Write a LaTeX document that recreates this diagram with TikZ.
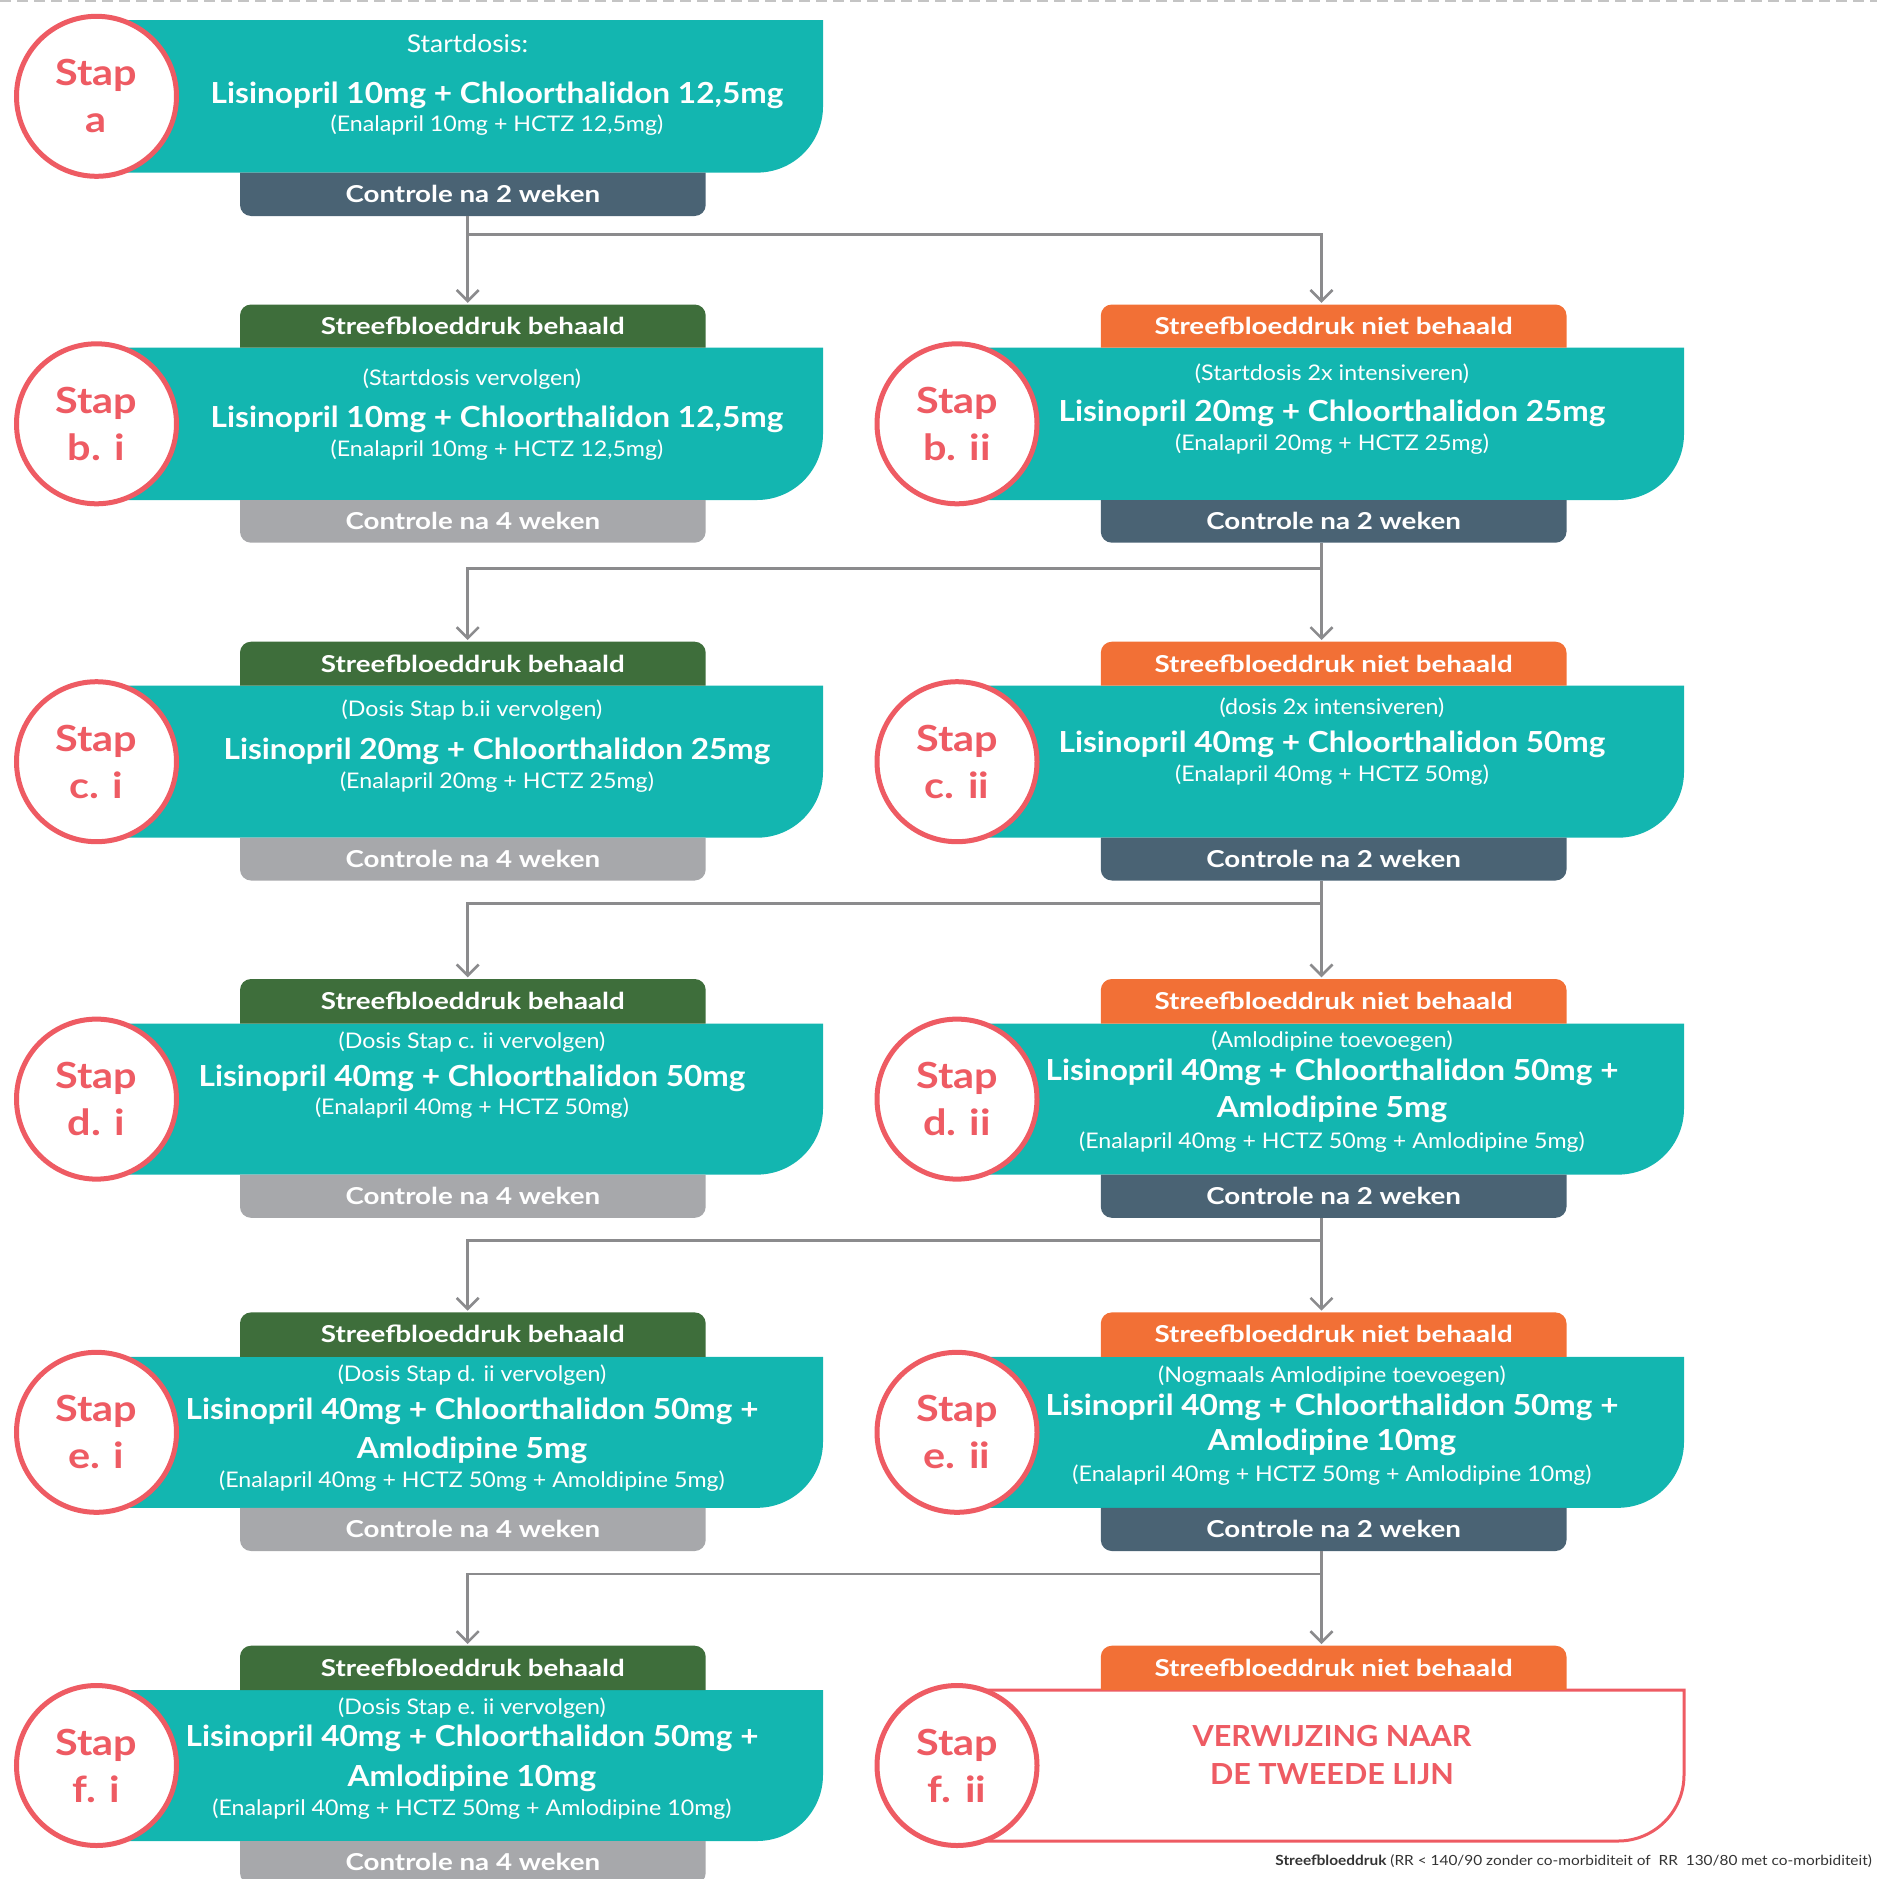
\documentclass[tikz,border=0pt]{standalone}
\usepackage{fontspec}
\setmainfont{Lato}
\newfontfamily\fmain{Lato}[FakeStretch=1.09]
\newfontfamily\fsub{Lato}[FakeStretch=1.08]
\newfontfamily\fhdr{Lato}[FakeStretch=1.19]
\newfontfamily\fstap{Lato}[FakeStretch=1.15]
\newfontfamily\fnote{Lato}[FakeStretch=1.10]
\newfontfamily\fref{Lato}[FakeStretch=1.055]
\usetikzlibrary{arrows.meta}
\definecolor{tealc}{HTML}{13B6B0}
\definecolor{greenc}{HTML}{3E6E3B}
\definecolor{orangec}{HTML}{F27036}
\definecolor{darkc}{HTML}{4A6374}
\definecolor{grayc}{HTML}{A7A8AB}
\definecolor{redc}{HTML}{EE5B63}
\definecolor{linec}{HTML}{8B8B8D}
\definecolor{dashc}{HTML}{C4C4C4}
\definecolor{notec}{HTML}{333333}
% shapes: L T R B colour
\newcommand\tealshape[5]{\fill[#5] (#1,#2) -- (#3,#2) -- (#3,#4-66) arc[start angle=0,end angle=-90,radius=66pt] -- (#1,#4) -- cycle;}
\newcommand\hdrshape[5]{\fill[#5] (#1,#4) -- (#1,#2+11) arc[start angle=180,end angle=90,radius=11pt] -- (#3-11,#2) arc[start angle=90,end angle=0,radius=11pt] -- (#3,#4) -- cycle;}
\newcommand\ctrlshape[5]{\fill[#5] (#1,#2) -- (#3,#2) -- (#3,#4-11) arc[start angle=0,end angle=-90,radius=11pt] -- (#1+11,#4) arc[start angle=-90,end angle=-180,radius=11pt] -- cycle;}
% box with label: name L T R B colour text
\newcommand\hdrbox[7]{\hdrshape{#2}{#3}{#4}{#5}{#6}\node[boxlbl,minimum width={(#4-#2)*1pt},minimum height={(#5-#3)*1pt}] (#1) at ({(#2+#4)/2},{(#3+#5)/2}) {#7};}
\newcommand\ctrlbox[7]{\ctrlshape{#2}{#3}{#4}{#5}{#6}\node[boxlbl,minimum width={(#4-#2)*1pt},minimum height={(#5-#3)*1pt}] (#1) at ({(#2+#4)/2},{(#3+#5)/2}) {#7};}
\tikzset{
  conn/.style={draw=linec, line width=2.6pt},
  arr/.style={conn, -{Straight Barb[length=11pt,width=22pt]}, shorten >=1.5pt},
  stapc/.style={circle, draw=redc, line width=5pt, fill=white, minimum size=160pt, inner sep=0pt, text=redc, font=\fstap\bfseries\fontsize{36}{47}\selectfont, align=center},
  boxlbl/.style={inner sep=0pt, text=white, font=\fhdr\bfseries\fontsize{23.3}{27}\selectfont, text height=16.7pt, text depth=0pt},
  mainl/.style={anchor=base, inner sep=0pt, text=white, font=\fmain\bfseries\fontsize{29}{34}\selectfont},
  subl/.style={anchor=base, inner sep=0pt, text=white, font=\fsub\fontsize{21.5}{26}\selectfont},
  startl/.style={anchor=base, inner sep=0pt, text=white, font=\fsub\fontsize{24.5}{28}\selectfont},
  refl/.style={anchor=base, inner sep=0pt, text=redc, font=\fref\bfseries\fontsize{29}{34}\selectfont},
  notel/.style={anchor=base east, inner sep=0pt, text=notec, font=\fnote\fontsize{14}{16}\selectfont},
}
\begin{document}
\begin{tikzpicture}[x=1pt,y=-1pt]
\useasboundingbox (0,0) rectangle (1877,1879);
\clip (0,0) rectangle (1877,1879);
\draw[draw=dashc, line width=1.6pt, dash pattern=on 11pt off 6pt] (0,1.2) -- (1877,1.2);

% ---------- Row a ----------
\tealshape{105}{20}{823}{172.6}{tealc}
\ctrlbox{ca}{240}{172.6}{705.7}{216}{darkc}{Controle na 2 weken}
\node[stapc] (sa) at (96.5,96.3) {Stap\\a};
\node[startl] (ta1) at (467.5,52.5) {Startdosis:};
\node[mainl] (ta2) at (497,103) {Lisinopril 10mg + Chloorthalidon 12,5mg};
\node[subl]  (ta3) at (497,131) {(Enalapril 10mg + HCTZ 12,5mg)};

% ---------- Row b ----------
\tealshape{105}{347.5}{823}{500}{tealc}
\hdrbox{hbi}{240}{304.5}{705.7}{347.5}{greenc}{Streefbloeddruk behaald}
\ctrlbox{cbi}{240}{500}{705.7}{542.7}{grayc}{Controle na 4 weken}
\node[stapc] (sbi) at (96.5,423.8) {Stap\\b. i};
\node[subl]  (tbi1) at (472,385)   {(Startdosis vervolgen)};
\node[mainl] (tbi2) at (497,427.3) {Lisinopril 10mg + Chloorthalidon 12,5mg};
\node[subl]  (tbi3) at (497,456)   {(Enalapril 10mg + HCTZ 12,5mg)};

\tealshape{966}{347.5}{1684}{500}{tealc}
\hdrbox{hbii}{1100.8}{304.5}{1566.5}{347.5}{orangec}{Streefbloeddruk niet behaald}
\ctrlbox{cbii}{1100.8}{500}{1566.5}{542.7}{darkc}{Controle na 2 weken}
\node[stapc] (sbii) at (957,423.8) {Stap\\b. ii};
\node[subl]  (tbii1) at (1332,380.5) {(Startdosis 2x intensiveren)};
\node[mainl] (tbii2) at (1332,421.5) {Lisinopril 20mg + Chloorthalidon 25mg};
\node[subl]  (tbii3) at (1332,450.5) {(Enalapril 20mg + HCTZ 25mg)};

% ---------- Row c ----------
\tealshape{105}{685.7}{823}{837.7}{tealc}
\hdrbox{hci}{240}{641.7}{705.7}{685.7}{greenc}{Streefbloeddruk behaald}
\ctrlbox{cci}{240}{837.7}{705.7}{880.5}{grayc}{Controle na 4 weken}
\node[stapc] (sci) at (96.5,761.7) {Stap\\c. i};
\node[subl]  (tci1) at (472,716)   {(Dosis Stap b.ii vervolgen)};
\node[mainl] (tci2) at (497,759.5) {Lisinopril 20mg + Chloorthalidon 25mg};
\node[subl]  (tci3) at (497,788.5) {(Enalapril 20mg + HCTZ 25mg)};

\tealshape{966}{685.7}{1684}{837.7}{tealc}
\hdrbox{hcii}{1100.8}{641.7}{1566.5}{685.7}{orangec}{Streefbloeddruk niet behaald}
\ctrlbox{ccii}{1100.8}{837.7}{1566.5}{880.5}{darkc}{Controle na 2 weken}
\node[stapc] (scii) at (957,761.7) {Stap\\c. ii};
\node[subl]  (tcii1) at (1332,714)   {(dosis 2x intensiveren)};
\node[mainl] (tcii2) at (1332,752.5) {Lisinopril 40mg + Chloorthalidon 50mg};
\node[subl]  (tcii3) at (1332,781.5) {(Enalapril 40mg + HCTZ 50mg)};

% ---------- Row d ----------
\tealshape{105}{1023.6}{823}{1174.6}{tealc}
\hdrbox{hdi}{240}{979}{705.7}{1023.6}{greenc}{Streefbloeddruk behaald}
\ctrlbox{cdi}{240}{1174.6}{705.7}{1217.8}{grayc}{Controle na 4 weken}
\node[stapc] (sdi) at (96.5,1099.1) {Stap\\d. i};
\node[subl]  (tdi1) at (472,1048)   {(Dosis Stap c. ii vervolgen)};
\node[mainl] (tdi2) at (472,1086.5) {Lisinopril 40mg + Chloorthalidon 50mg};
\node[subl]  (tdi3) at (472,1114.5) {(Enalapril 40mg + HCTZ 50mg)};

\tealshape{966}{1023.6}{1684}{1174.6}{tealc}
\hdrbox{hdii}{1100.8}{979}{1566.5}{1023.6}{orangec}{Streefbloeddruk niet behaald}
\ctrlbox{cdii}{1100.8}{1174.6}{1566.5}{1217.8}{darkc}{Controle na 2 weken}
\node[stapc] (sdii) at (957,1099.1) {Stap\\d. ii};
\node[subl]  (tdii1) at (1332,1047.3) {(Amlodipine toevoegen)};
\node[mainl] (tdii2) at (1332,1080.7) {Lisinopril 40mg + Chloorthalidon 50mg +};
\node[mainl] (tdii3) at (1332,1117.3) {Amlodipine 5mg};
\node[subl]  (tdii4) at (1332,1148.3) {(Enalapril 40mg + HCTZ 50mg + Amlodipine 5mg)};

% ---------- Row e ----------
\tealshape{105}{1356.8}{823}{1507.8}{tealc}
\hdrbox{hei}{240}{1312.4}{705.7}{1356.8}{greenc}{Streefbloeddruk behaald}
\ctrlbox{cei}{240}{1507.8}{705.7}{1551}{grayc}{Controle na 4 weken}
\node[stapc] (sei) at (96.5,1432.3) {Stap\\e. i};
\node[subl]  (tei1) at (472,1381.4) {(Dosis Stap d. ii vervolgen)};
\node[mainl] (tei2) at (472,1419.3) {Lisinopril 40mg + Chloorthalidon 50mg +};
\node[mainl] (tei3) at (472,1458.6) {Amlodipine 5mg};
\node[subl]  (tei4) at (472,1487.5) {(Enalapril 40mg + HCTZ 50mg + Amoldipine 5mg)};

\tealshape{966}{1356.8}{1684}{1507.8}{tealc}
\hdrbox{heii}{1100.8}{1312.4}{1566.5}{1356.8}{orangec}{Streefbloeddruk niet behaald}
\ctrlbox{ceii}{1100.8}{1507.8}{1566.5}{1551}{darkc}{Controle na 2 weken}
\node[stapc] (seii) at (957,1432.3) {Stap\\e. ii};
\node[subl]  (teii1) at (1332,1382.5) {(Nogmaals Amlodipine toevoegen)};
\node[mainl] (teii2) at (1332,1415.4) {Lisinopril 40mg + Chloorthalidon 50mg +};
\node[mainl] (teii3) at (1332,1450.5) {Amlodipine 10mg};
\node[subl]  (teii4) at (1332,1481.5) {(Enalapril 40mg + HCTZ 50mg + Amlodipine 10mg)};

% ---------- Row f ----------
\tealshape{105}{1690}{823}{1841}{tealc}
\hdrbox{hfi}{240}{1645.7}{705.7}{1690}{greenc}{Streefbloeddruk behaald}
\ctrlbox{cfi}{240}{1841}{705.7}{1884}{grayc}{Controle na 4 weken}
\node[stapc] (sfi) at (96.5,1765.5) {Stap\\f. i};
\node[subl]  (tfi1) at (472,1714.6) {(Dosis Stap e. ii vervolgen)};
\node[mainl] (tfi2) at (472,1746.8) {Lisinopril 40mg + Chloorthalidon 50mg +};
\node[mainl] (tfi3) at (472,1786)   {Amlodipine 10mg};
\node[subl]  (tfi4) at (472,1815)   {(Enalapril 40mg + HCTZ 50mg + Amlodipine 10mg)};

\draw[draw=redc, line width=3pt, fill=white] (950,1690) -- (1684,1690) -- (1684,1841-66) arc[start angle=0,end angle=-90,radius=66pt] -- (950,1841) -- cycle;
\hdrbox{hfii}{1100.8}{1645.7}{1566.5}{1690}{orangec}{Streefbloeddruk niet behaald}
\node[stapc] (sfii) at (957,1765.5) {Stap\\f. ii};
\node[refl] (tfii1) at (1332,1746.7) {VERWIJZING NAAR};
\node[refl] (tfii2) at (1332,1784.3) {DE TWEEDE LIJN};

\node[notel] (note) at (1872,1865) {\textbf{Streefbloeddruk} (RR < 140/90 zonder co-morbiditeit of\ \ RR\ \ 130/80 met co-morbiditeit)};

% ---------- connectors ----------
\coordinate (jab) at (467.7,234.3);
\coordinate (jbc) at (1321.5,568.5);
\coordinate (jcd) at (1321.5,903.7);
\coordinate (jde) at (1321.5,1240.5);
\coordinate (jef) at (1321.5,1573.8);

\draw[conn] ([xshift=-5.15pt]ca.south) -- (jab);
\draw[arr] (jab) -- ([xshift=-5.15pt]hbi.north);
\draw[arr] (jab) -| ([xshift=-12.15pt]hbii.north);

\draw[conn] ([xshift=-12.15pt]cbii.south) -- (jbc);
\draw[arr] (jbc) -- ([xshift=-12.15pt]hcii.north);
\draw[arr] (jbc) -| ([xshift=-5.15pt]hci.north);

\draw[conn] ([xshift=-12.15pt]ccii.south) -- (jcd);
\draw[arr] (jcd) -- ([xshift=-12.15pt]hdii.north);
\draw[arr] (jcd) -| ([xshift=-5.15pt]hdi.north);

\draw[conn] ([xshift=-12.15pt]cdii.south) -- (jde);
\draw[arr] (jde) -- ([xshift=-12.15pt]heii.north);
\draw[arr] (jde) -| ([xshift=-5.15pt]hei.north);

\draw[conn] ([xshift=-12.15pt]ceii.south) -- (jef);
\draw[arr] (jef) -- ([xshift=-12.15pt]hfii.north);
\draw[arr] (jef) -| ([xshift=-5.15pt]hfi.north);
\end{tikzpicture}
\end{document}
